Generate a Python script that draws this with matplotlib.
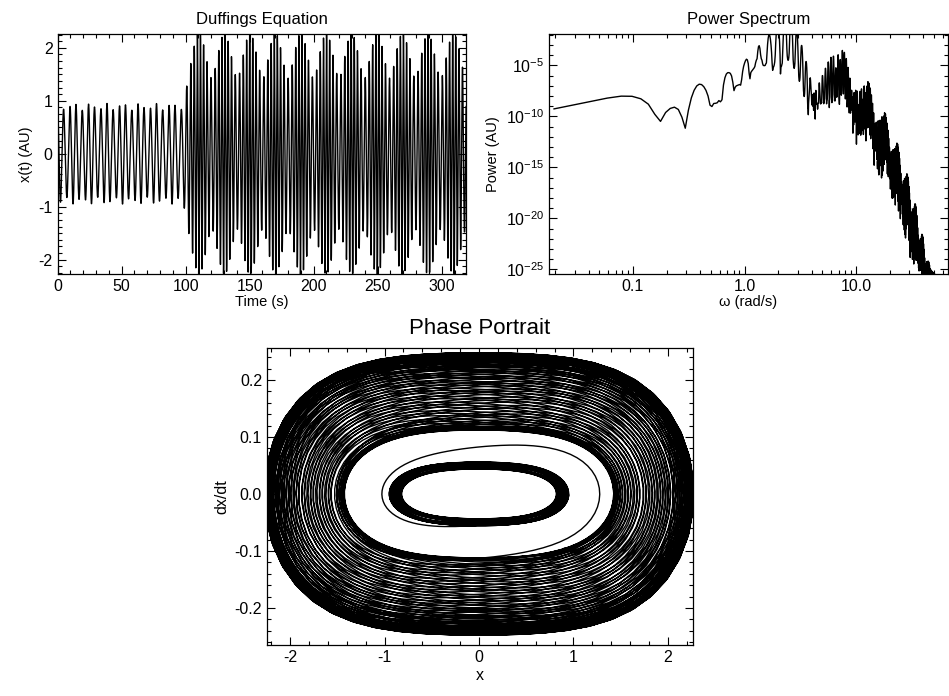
import numpy as np
import matplotlib
matplotlib.use("Agg")
import matplotlib.pyplot as plt
from matplotlib.ticker import MultipleLocator, FixedLocator, FixedFormatter, LogLocator, NullFormatter, FuncFormatter

plt.rcParams['font.family'] = ['Liberation Sans', 'DejaVu Sans']
plt.rcParams['mathtext.fontset'] = 'custom'
plt.rcParams['mathtext.rm'] = 'Liberation Sans'
plt.rcParams['mathtext.it'] = 'Liberation Sans:italic'
plt.rcParams['mathtext.default'] = 'regular'
plt.rcParams['axes.unicode_minus'] = False

# ---- Duffing oscillator parameters: x'' + a x + b x^3 = g cos(phi(t)) ----
dt = 0.0476            # sample interval (s)
t_total = 320.0        # record length (s)
a_lin = 1.75           # linear stiffness
b_cub = 1.5            # cubic stiffness
g_drive = 0.80         # drive amplitude
w_start = 1.3          # drive frequency before the sweep (rad/s)
w_end = 2.30           # drive frequency after the sweep (rad/s)
sweep_t1 = 95.0        # sweep start (s)
sweep_t2 = 105.0       # sweep end (s)
x_init = 0.95
v_init = 0.0

# ---- axis tick labels ----
ts_xticks = [0, 50, 100, 150, 200, 250, 300]
ps_xticks = [0.1, 1.0, 10.0]
ps_xticklabels = ['0.1', '1.0', '10.0']
ps_yticks = [1e-25, 1e-20, 1e-15, 1e-10, 1e-5]

N = int(t_total/dt)
sub = 3
rate = (w_end - w_start) / (sweep_t2 - sweep_t1)
def phase(t):
    tc = np.clip(t, sweep_t1, sweep_t2)
    return w_start*t + 0.5*rate*(tc - sweep_t1)**2 + (w_end - w_start)*np.maximum(t - sweep_t2, 0)
def f(t, x, v):
    return v, -a_lin*x - b_cub*x**3 + g_drive*np.cos(phase(t))
x = np.array([x_init]); v = np.array([v_init])
xs = np.zeros(N)
h = dt/sub
t = 0.0
for i in range(N):
    xs[i] = x[0]
    for s in range(sub):
        k1x, k1v = f(t, x, v)
        k2x, k2v = f(t+h/2, x+h/2*k1x, v+h/2*k1v)
        k3x, k3v = f(t+h/2, x+h/2*k2x, v+h/2*k2v)
        k4x, k4v = f(t+h, x+h*k3x, v+h*k3v)
        x = x + h/6*(k1x+2*k2x+2*k3x+k4x)
        v = v + h/6*(k1v+2*k2v+2*k3v+k4v)
        t += h
tt = np.arange(N)*dt
dxdt = np.gradient(xs)
win = np.kaiser(N, 38.0)
Xf = np.fft.fft(xs*win) / win.sum()
kk = np.arange(1, N//2)
omega = 2*np.pi*kk/(N*dt)
power = np.abs(Xf[kk])**2

fig = plt.figure(figsize=(9.49, 6.96), dpi=100)
ax1 = fig.add_axes([0.0606, 0.6063, 0.4305, 0.3448])
ax2 = fig.add_axes([0.5785, 0.6063, 0.4205, 0.3448])
ax3 = fig.add_axes([0.2813, 0.0733, 0.4489, 0.4267])
for ax in (ax1, ax2, ax3):
    ax.tick_params(which='both', direction='in', top=True, right=True, labelsize=11.5, width=0.8)
    ax.tick_params(which='major', length=6)
    ax.tick_params(which='minor', length=3)
    for s in ax.spines.values():
        s.set_linewidth(0.9)

ax1.plot(tt, xs, color='black', lw=1.0)
ax1.set_xlim(0, 319)
ax1.set_ylim(-2.27, 2.26)
ax1.xaxis.set_major_locator(FixedLocator(ts_xticks))
ax1.xaxis.set_minor_locator(MultipleLocator(10))
ax1.yaxis.set_major_locator(MultipleLocator(1))
ax1.yaxis.set_minor_locator(MultipleLocator(0.125))
ax1.set_title('Duffings Equation', fontsize=12, pad=7)
ax1.set_xlabel('Time (s)', fontsize=10.5, labelpad=1)
ax1.set_ylabel('x(t) (AU)', fontsize=10.5)

ax2.plot(omega, power, color='black', lw=1.0)
ax2.set_xscale('log'); ax2.set_yscale('log')
ax2.set_xlim(0.0177, 66.7)
ax2.set_ylim(10**-25.46, 10**-1.92)
ax2.xaxis.set_major_locator(FixedLocator(ps_xticks))
ax2.xaxis.set_major_formatter(FixedFormatter(ps_xticklabels))
ax2.xaxis.set_minor_locator(LogLocator(base=10, subs=np.arange(2, 10)))
ax2.xaxis.set_minor_formatter(NullFormatter())
ax2.yaxis.set_major_locator(FixedLocator(ps_yticks))
ax2.yaxis.set_major_formatter(FuncFormatter(lambda y, p: r'$10^{%d}$' % round(np.log10(y))))
ax2.yaxis.set_minor_locator(FixedLocator([10.0**k for k in range(-26, 0)]))
ax2.yaxis.set_minor_formatter(NullFormatter())
ax2.set_title('Power Spectrum', fontsize=12, pad=7)
ax2.set_xlabel('ω (rad/s)', fontsize=10.5, labelpad=1)
ax2.set_ylabel('Power (AU)', fontsize=10.5)

ax3.plot(xs, dxdt, color='black', lw=1.0)
ax3.set_xlim(-2.245, 2.265)
ax3.set_ylim(-0.265, 0.256)
ax3.xaxis.set_major_locator(MultipleLocator(1))
ax3.xaxis.set_minor_locator(MultipleLocator(0.2))
ax3.yaxis.set_major_locator(MultipleLocator(0.1))
ax3.yaxis.set_minor_locator(MultipleLocator(0.02))
ax3.yaxis.set_major_formatter(FuncFormatter(lambda y, p: '%.1f' % y))
ax3.set_title('Phase Portrait', fontsize=16, pad=10)
ax3.set_xlabel('x', fontsize=11.5, labelpad=2)
ax3.set_ylabel('dx/dt', fontsize=11.5)
fig.savefig('out.png', dpi=100)
